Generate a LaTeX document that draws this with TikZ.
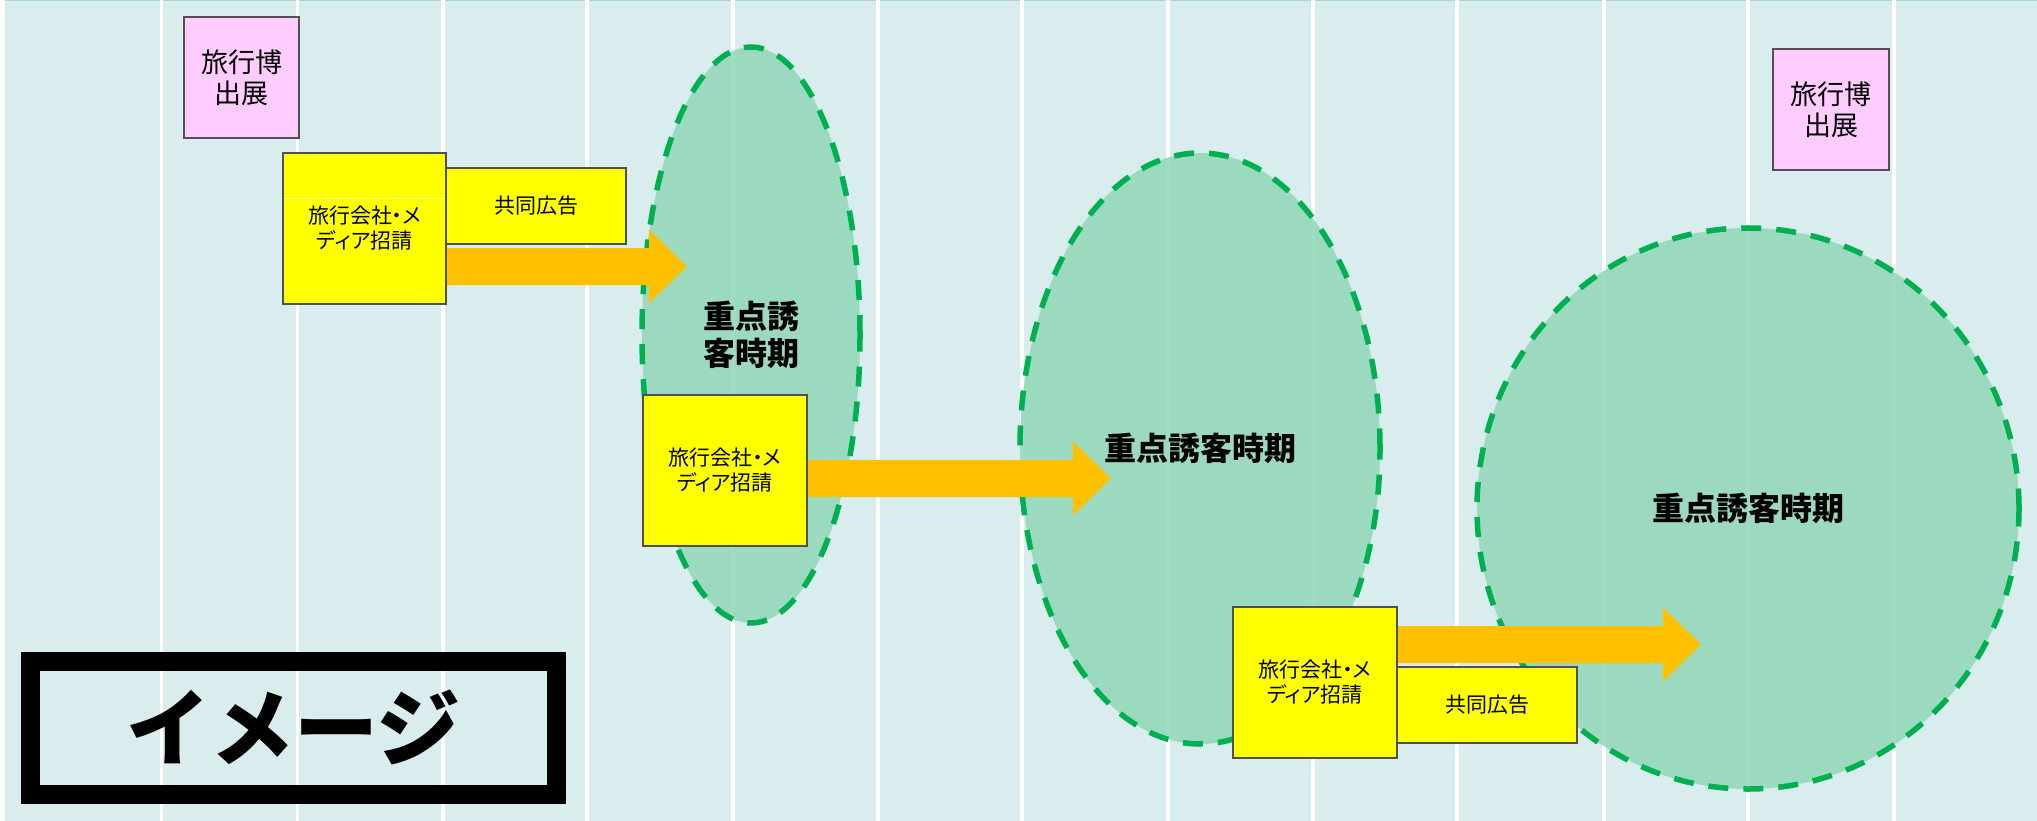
\documentclass[tikz,border=0pt]{standalone}
\usepackage{fontspec}
\newfontfamily\jp{Noto Sans CJK JP}
\newfontfamily\jpp[RawFeature=+palt]{Noto Sans CJK JP}
\usetikzlibrary{shapes.geometric}
\definecolor{bgc}{HTML}{DAEDEE}
\definecolor{topc}{HTML}{A0D8D8}
\definecolor{pinkc}{HTML}{FFCCFF}
\definecolor{yelc}{HTML}{FFFF00}
\definecolor{arrc}{HTML}{FFC000}
\definecolor{ellfill}{RGB}{144,215,182}
\definecolor{elldraw}{HTML}{00B050}
\definecolor{boxline}{HTML}{505050}
\newcommand\blockarr[3]{\fill[arrc] (#1,#3-18.5) -- (#2-38,#3-18.5) -- (#2-38,#3-37) -- (#2,#3) -- (#2-38,#3+37) -- (#2-38,#3+18.5) -- (#1,#3+18.5) -- cycle;}
\begin{document}
\begin{tikzpicture}[x=1bp,y=-1bp,
  every node/.style={inner sep=0pt, outer sep=0pt},
  pinkbox/.style={draw=boxline, line width=1.2bp, fill=pinkc, align=center, font=\jpp\fontsize{27bp}{31bp}\selectfont},
  ybox/.style={draw=boxline, line width=1.2bp, fill=yelc, align=center, font=\jpp\fontsize{21bp}{25bp}\selectfont},
  period/.style={ellipse, draw=elldraw, line width=5.5bp, dash pattern=on 20bp off 15bp, fill=ellfill, fill opacity=0.85, text opacity=1, align=center, font=\jp\bfseries\fontsize{32bp}{37bp}\selectfont},
  gridline/.style={draw=white, line width=3.2bp}
]
\useasboundingbox (0,0) rectangle (2037,821);
% background
\fill[bgc] (5,0) rectangle (2037,821);
\fill[topc] (5,0) rectangle (2037,1.5);
\foreach \gx in {161.5,297.5,443,587,733,878,1022,1168,1313,1457,1604,1748,1894}
  \draw[gridline] (\gx,0) -- (\gx,821);
% periods
\node[period, minimum width=218bp, minimum height=576bp] (e1) at (751,335) {重点誘\\客時期};
\node[period, minimum width=360bp, minimum height=591bp] (e2) at (1200,448.5) {重点誘客時期};
\node[period, minimum width=542bp, minimum height=561bp] (e3) at (1748,508.5) {重点誘客時期};
% arrows
\blockarr{446}{687}{266.5}
\blockarr{807}{1111}{478.5}
\blockarr{1397}{1701}{644.5}
% boxes
\node[pinkbox, minimum width=115bp, minimum height=121bp] (p1) at (241.5,77.5) {旅行博\\出展};
\node[pinkbox, minimum width=116bp, minimum height=121bp] (p2) at (1831,109.5) {旅行博\\出展};
\node[ybox, minimum width=163bp, minimum height=151bp] (y1) at (364.5,228.5) {旅行会社・メ\\ディア招請};
\draw[white!55!yelc, line width=1bp] (283.6,198) -- (445.4,198);
\node[ybox, minimum width=180bp, minimum height=76bp] (a1) at (536,206) {共同広告};
\node[ybox, minimum width=164bp, minimum height=151bp] (y2) at (725,470.5) {旅行会社・メ\\ディア招請};
\node[ybox, minimum width=164bp, minimum height=151bp] (y3) at (1315,682.5) {旅行会社・メ\\ディア招請};
\node[ybox, minimum width=180bp, minimum height=76bp] (a3) at (1487,705) {共同広告};
% image label
\node[draw=black, line width=19bp, minimum width=525.5bp, minimum height=132.5bp, font=\jp\bfseries\fontsize{84bp}{90bp}\selectfont] (img) at (293.75,727.75) {イメージ};
\end{tikzpicture}
\end{document}
